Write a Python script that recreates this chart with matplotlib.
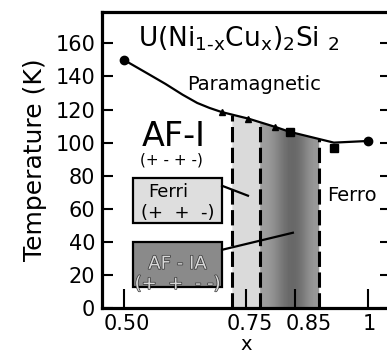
import numpy as np
import matplotlib
matplotlib.use("Agg")
import matplotlib.pyplot as plt
import matplotlib.transforms as mtransforms
import matplotlib.patheffects as pe
from matplotlib.patches import Rectangle

plt.rcParams['font.family'] = ['DejaVu Sans']
plt.rcParams['mathtext.default'] = 'regular'

# phase boundary T(x)
x_line = [0.50, 0.55, 0.585, 0.62, 0.65, 0.675, 0.70, 0.755, 0.81, 0.84, 0.93, 1.00]
t_line = [150, 141.5, 135.5, 129, 124, 121, 118.5, 114.5, 109.5, 106.5, 100, 101]

# measured points
x_circ = [0.50, 1.00]
t_circ = [150, 101]
x_tri = [0.70, 0.755, 0.81]
t_tri = [118.5, 114.5, 109.5]
x_sq = [0.84, 0.93]
t_sq = [106.5, 97]

# phase boundaries (dashed)
x_dash = [0.721, 0.779, 0.900]

xticks = [0.50, 0.75, 0.85, 1.0]
xticklabels = ['0.50', '0.75', '0.85', '1']
yticks = [0, 20, 40, 60, 80, 100, 120, 140, 160]

fig = plt.figure(figsize=(3.87, 3.58), dpi=100)
ax = fig.add_axes([0.2636, 0.1397, 0.7467, 0.8268])
ax.set_xlim(0.455, 1.047)
ax.set_ylim(0, 179)

# shaded regions under the boundary
xf = np.linspace(x_dash[0], x_dash[1], 30)
ax.fill_between(xf, 0, np.interp(xf, x_line, t_line), color='#dadada', lw=0, zorder=1)
xd = np.linspace(x_dash[1], x_dash[2], 60)
poly = ax.fill_between(xd, 0, np.interp(xd, x_line, t_line), color='none', lw=0, zorder=1)
grad = np.array([[0.62, 0.60, 0.55, 0.48, 0.42, 0.40, 0.43, 0.50, 0.58, 0.60]])
im = ax.imshow(grad, cmap='gray', vmin=0, vmax=1, aspect='auto',
               extent=[x_dash[1], x_dash[2], 0, 179], interpolation='bicubic', zorder=1)
im.set_clip_path(poly.get_paths()[0], transform=ax.transData)

for xv in x_dash:
    ax.plot([xv, xv], [0, np.interp(xv, x_line, t_line)], color='black', lw=2.2,
            dashes=(5, 1.8), zorder=3)

ax.plot(x_line, t_line, color='black', lw=1.6, zorder=4)
ax.plot(x_circ, t_circ, 'o', color='black', ms=6, zorder=5)
ax.plot(x_tri, t_tri, '^', color='black', ms=5, zorder=5)
ax.plot(x_sq, t_sq, 's', color='black', ms=6, zorder=5)

# labels inside the plot
ax.text(0.1246, 0.882, r'U(Ni$_{1\text{-}x}$Cu$_{x}$)$_2$Si $_2$', transform=ax.transAxes,
        fontsize=19, va='baseline', ha='left')
ax.text(0.629, 135, 'Paramagnetic', fontsize=14, va='center', ha='left')
ax.text(0.537, 104, 'AF-I', fontsize=24, va='center', ha='left')
ax.text(0.533, 89.5, '(+ - + -)', fontsize=11, va='center', ha='left')
ax.text(0.916, 68, 'Ferro', fontsize=14, va='center', ha='left')

ax.add_patch(Rectangle((0.518, 51.5), 0.183, 27.3, facecolor='#dedede',
                       edgecolor='black', lw=1.6, zorder=6))
ax.text(0.549, 70.3, 'Ferri', fontsize=13, va='center', ha='left', zorder=7)
ax.text(0.6095, 57.6, '(+  +  -)', fontsize=13, va='center', ha='center', zorder=7)

ax.add_patch(Rectangle((0.518, 12.7), 0.183, 27.3, facecolor='#8a8a8a',
                       edgecolor='black', lw=1.6, zorder=6))
stroke = [pe.withStroke(linewidth=1.0, foreground='#333333')]
ax.text(0.6095, 26.7, 'AF - IA', fontsize=13, va='center', ha='center', color='#d8d8d8',
        path_effects=stroke, zorder=7)
ax.text(0.6095, 14.5, '(+  +  - -)', fontsize=13, va='center', ha='center', color='#d8d8d8',
        path_effects=stroke, zorder=7)

ax.plot([0.701, 0.754], [73.9, 67.9], color='black', lw=1.6, zorder=6)
ax.plot([0.701, 0.846], [35.2, 45.5], color='black', lw=1.6, zorder=6)

# axes styling
for s in ['left', 'bottom', 'top']:
    ax.spines[s].set_linewidth(2.3)
ax.spines['right'].set_visible(False)

ax.set_yticks(yticks)
ax.tick_params(axis='y', direction='in', length=8, width=1.5, right=True,
               labelsize=15, pad=5)
ax.set_xticks(xticks)
ax.set_xticklabels(xticklabels)
ax.tick_params(axis='x', direction='in', length=14, width=1.5, top=False,
               labelsize=15, pad=4)
for lab, dx in zip(ax.get_xticklabels(), [2, 3, 10, 1]):
    lab.set_transform(lab.get_transform() + mtransforms.ScaledTranslation(dx / 72, 0, fig.dpi_scale_trans))

ax.set_xlabel('x', fontsize=14, labelpad=1)
ax.set_ylabel('Temperature (K)', fontsize=18, labelpad=6)

fig.savefig('out.png', dpi=100)
